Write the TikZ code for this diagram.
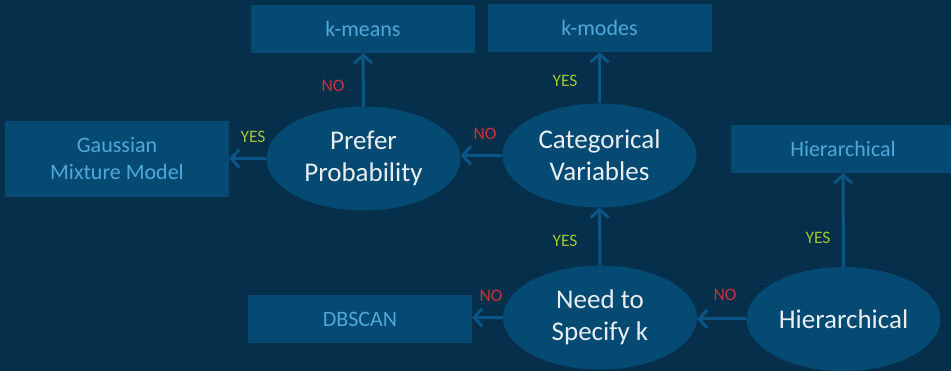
\documentclass[tikz,border=0pt]{standalone}
\usepackage{fontspec}
\setmainfont{Carlito}
\usetikzlibrary{shapes.geometric,arrows.meta}

\definecolor{bgnavy}{HTML}{062F4B}
\definecolor{shapefill}{HTML}{054A73}
\definecolor{arrowblue}{HTML}{0A5686}
\definecolor{boxtext}{HTML}{4FA7DA}
\definecolor{ovaltext}{HTML}{E8EEF2}
\definecolor{nored}{HTML}{C8333A}
\definecolor{yesgreen}{HTML}{A3C332}

\tikzset{
  result/.style={rectangle, fill=shapefill, draw=none, inner sep=0pt,
    minimum width=224pt, minimum height=48pt, text=boxtext, align=center,
    font=\fontsize{22}{27}\selectfont},
  question/.style={ellipse, fill=shapefill, draw=none, inner sep=0pt,
    minimum width=194pt, minimum height=104pt, text=ovaltext, align=center,
    font=\fontsize{27}{32}\selectfont},
  flow/.style={draw=arrowblue, line width=3pt,
    -{Straight Barb[length=8pt,width=18pt,line width=3pt]}},
  nolabel/.style={text=nored, font=\fontsize{17.5}{20}\selectfont, inner sep=0pt},
  yeslabel/.style={text=yesgreen, font=\fontsize{17.5}{20}\selectfont, inner sep=0pt}
}

\begin{document}
\begin{tikzpicture}[x=1pt, y=-1pt]
  \useasboundingbox[fill=bgnavy] (0,0) rectangle (951,371);
  \clip (0,0) rectangle (951,371);

  % outcome boxes
  \node[result] (kmeans) at (363,29) {k-means};
  \node[result] (kmodes) at (599.5,28) {k-modes};
  \node[result, minimum height=76pt] (gmm) at (117,159) {Gaussian\\Mixture Model};
  \node[result] (hierbox) at (843,149) {Hierarchical};
  \node[result] (dbscan) at (360,319.5) {DBSCAN};

  % decision ovals
  \node[question] (prob) at (363.5,158.5) {Prefer\\Probability};
  \node[question] (cat) at (599.5,155.5) {Categorical\\Variables};
  \node[question] (needk) at (600,317.5) {Need to\\Specify k};
  \node[question] (hier) at (843.5,319) {Hierarchical};

  % connectors
  \draw[flow] (prob.north) -- (kmeans.south);
  \draw[flow] (prob.west) -- (prob.west -| gmm.east);
  \draw[flow] (cat.west) -- (cat.west -| prob.east);
  \draw[flow] (cat.north) -- (kmodes.south);
  \draw[flow] (needk.north) -- (cat.south);
  \draw[flow] (needk.west) -- (needk.west -| dbscan.east);
  \draw[flow] (hier.west) -- (hier.west -| needk.east);
  \draw[flow] (hier.north) -- (hierbox.south);

  % branch labels
  \node[nolabel] (l1) at (333,86) {NO};
  \node[yeslabel] (l2) at (253,137) {YES};
  \node[nolabel] (l3) at (485,134) {NO};
  \node[yeslabel] (l4) at (565,81) {YES};
  \node[yeslabel] (l5) at (565,241) {YES};
  \node[nolabel] (l6) at (491,296) {NO};
  \node[nolabel] (l7) at (725,295) {NO};
  \node[yeslabel] (l8) at (818,238) {YES};
\end{tikzpicture}
\end{document}
